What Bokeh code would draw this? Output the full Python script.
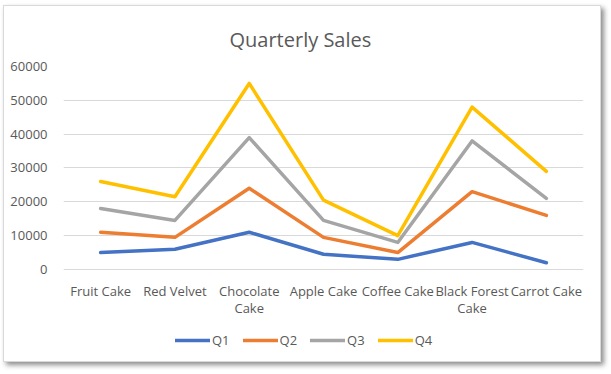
from bokeh.plotting import figure
from bokeh.models import (FactorRange, Range1d, Legend, LegendItem, Title, FixedTicker,
                          NumeralTickFormatter)
from bokeh.embed import file_html
from bokeh.resources import INLINE

categories = ["Fruit Cake", "Red Velvet", "Chocolate\nCake", "Apple Cake", "Coffee Cake", "Black Forest\nCake", "Carrot Cake"]
q1 = [5000, 6000, 11000, 4500, 3000, 8000, 2000]
q2 = [11000, 9500, 24000, 9500, 5000, 23000, 16000]
q3 = [18000, 14500, 39000, 14500, 8000, 38000, 21000]
q4 = [26000, 21500, 55000, 20500, 10000, 48000, 29000]
series_names = ["Q1", "Q2", "Q3", "Q4"]
series_values = [q1, q2, q3, q4]
yticks = [0, 10000, 20000, 30000, 40000, 50000, 60000]
colors = ["#4472C4", "#ED7D31", "#A5A5A5", "#FFC000"]

FONT = "Open Sans"
TXT = "#595959"

# frame extends below zero to host the category labels and the legend
p = figure(frame_width=520, frame_height=294, x_range=FactorRange(*categories),
           y_range=Range1d(-26900, 60000),
           output_backend="svg", toolbar_location=None,
           min_border_left=59, min_border_right=17, min_border_top=60, min_border_bottom=1)
p.title = None
t = Title(text="Quarterly Sales", align="left", vertical_align="top", text_font=FONT,
          text_font_size="20px", text_font_style="normal", text_color=TXT, offset=166, standoff=24)
p.add_layout(t, "above")

p.outline_line_color = None
p.background_fill_color = "white"
p.border_fill_color = "white"

p.xgrid.grid_line_color = None
p.ygrid.grid_line_color = "#D9D9D9"
p.ygrid.grid_line_width = 1

p.yaxis.ticker = FixedTicker(ticks=yticks)
p.yaxis.formatter = NumeralTickFormatter(format="0")
p.xaxis.fixed_location = 0
for ax in (p.xaxis[0], p.yaxis[0]):
    ax.axis_line_color = None
    ax.major_tick_line_color = None
    ax.minor_tick_line_color = None
    ax.major_label_text_font = FONT
    ax.major_label_text_font_size = "13px"
    ax.major_label_text_color = TXT
    ax.major_label_orientation = "horizontal"
p.yaxis.major_label_standoff = 10
p.xaxis.major_label_standoff = 7
p.xaxis.major_label_text_line_height = 0.93

items = []
for name, vals, c in zip(series_names, series_values, colors):
    r = p.line(x=categories, y=vals, line_color=c, line_width=3.5, line_join="round", line_cap="round")
    items.append(LegendItem(label=name, renderers=[r]))

legend = Legend(items=items, orientation="horizontal", location=(112, 11),
                glyph_width=35, glyph_height=18, label_standoff=2, label_width=17, spacing=13,
                padding=0, margin=0, border_line_color=None, background_fill_alpha=0,
                label_text_font=FONT, label_text_font_size="13px", label_text_color=TXT)
p.add_layout(legend, "center")

p.styles = {"border": "1px solid #D9D9D9", "box-shadow": "3px 3px 5px rgba(0,0,0,0.45)",
            "position": "relative", "left": "3px", "top": "5px"}

open("out.html", "w").write(file_html(p, INLINE))
